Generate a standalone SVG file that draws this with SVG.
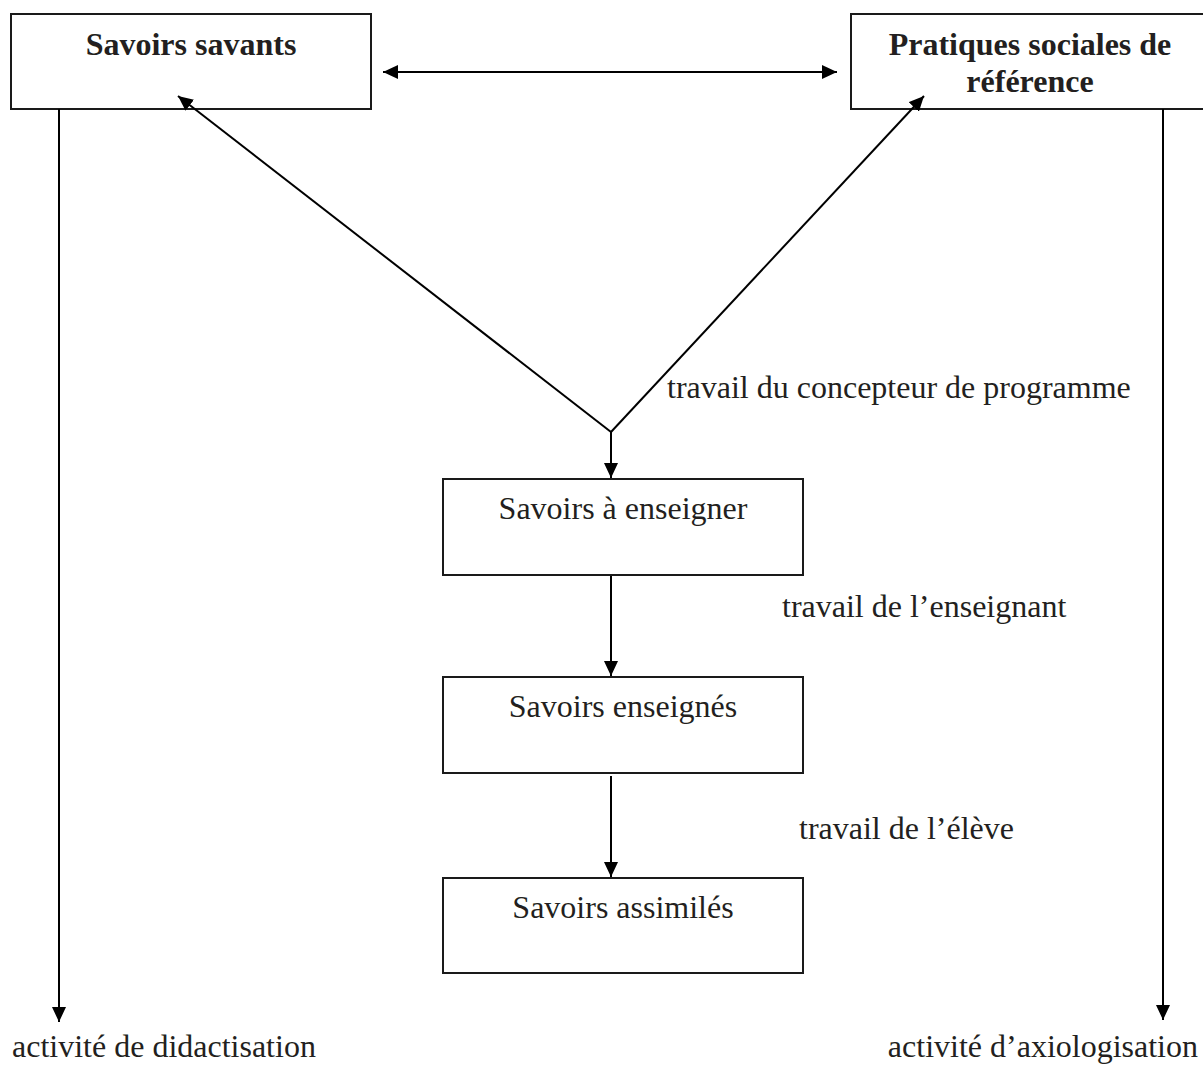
<svg xmlns="http://www.w3.org/2000/svg" width="1203" height="1066" viewBox="0 0 1203 1066">
<defs>
<style>
.box{fill:#fff;stroke:#1a1a1a;stroke-width:2}
.t{font-family:"Liberation Serif","Times New Roman",serif;font-size:32px;fill:#231f20}
.b{font-weight:bold}
.ln{stroke:#000;stroke-width:2;fill:none}
</style>
<marker id="ah" viewBox="0 0 15 14" refX="15" refY="7" markerWidth="15" markerHeight="14" markerUnits="userSpaceOnUse" orient="auto-start-reverse">
<path d="M0,0 L15,7 L0,14 z" fill="#000"/>
</marker>
</defs>
<rect width="1203" height="1066" fill="#fff"/>
<g id="n-savants">
<rect class="box" x="11" y="14" width="360" height="95"/>
<text class="t b" x="191" y="55" text-anchor="middle">Savoirs savants</text>
</g>
<g id="n-pratiques">
<rect class="box" x="851" y="14" width="360" height="95"/>
<text class="t b" x="1030" y="55" text-anchor="middle">Pratiques sociales de</text>
<text class="t b" x="1030" y="92" text-anchor="middle">référence</text>
</g>
<g id="n-aenseigner">
<rect class="box" x="443" y="479" width="360" height="96"/>
<text class="t" x="623" y="519" text-anchor="middle">Savoirs à enseigner</text>
</g>
<g id="n-enseignes">
<rect class="box" x="443" y="677" width="360" height="96"/>
<text class="t" x="623" y="717" text-anchor="middle">Savoirs enseignés</text>
</g>
<g id="n-assimiles">
<rect class="box" x="443" y="878" width="360" height="95"/>
<text class="t" x="623" y="918" text-anchor="middle">Savoirs assimilés</text>
</g>
<g id="connectors">
<line class="ln" x1="383" y1="72" x2="837" y2="72" marker-start="url(#ah)" marker-end="url(#ah)"/>
<line class="ln" x1="611" y1="432" x2="178" y2="96" marker-end="url(#ah)"/>
<line class="ln" x1="611" y1="432" x2="924" y2="96" marker-end="url(#ah)"/>
<line class="ln" x1="611" y1="431" x2="611" y2="478" marker-end="url(#ah)"/>
<line class="ln" x1="611" y1="576" x2="611" y2="676" marker-end="url(#ah)"/>
<line class="ln" x1="611" y1="776" x2="611" y2="877" marker-end="url(#ah)"/>
<line class="ln" x1="59" y1="109" x2="59" y2="1022" marker-end="url(#ah)"/>
<line class="ln" x1="1163" y1="109" x2="1163" y2="1020" marker-end="url(#ah)"/>
</g>
<g id="labels">
<text class="t" x="667" y="398">travail du concepteur de programme</text>
<text class="t" x="782" y="617">travail de l’enseignant</text>
<text class="t" x="799" y="839">travail de l’élève</text>
<text class="t" x="12" y="1057">activité de didactisation</text>
<text class="t" x="1198" y="1057" text-anchor="end">activité d’axiologisation</text>
</g>
</svg>
